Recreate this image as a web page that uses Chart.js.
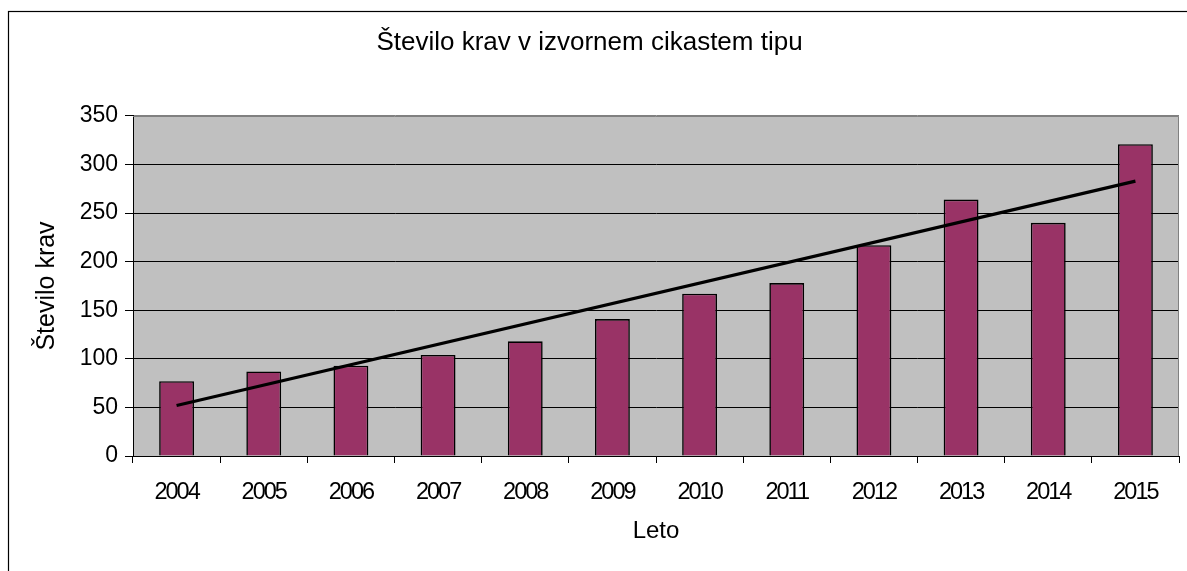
<!DOCTYPE html>
<html>
<head>
<meta charset="utf-8">
<script src="https://cdn.jsdelivr.net/npm/chart.js@4"></script>
<style>
  html, body { margin: 0; padding: 0; background: #fff; }
  #c { display: block; }
</style>
</head>
<body>
<canvas id="c" width="1187" height="571"></canvas>
<script>
const years = ['2004','2005','2006','2007','2008','2009','2010','2011','2012','2013','2014','2015'];
const cows = [77, 87, 93, 104, 118, 141, 167, 178, 217, 264, 240, 321];
const trend = [52, null, null, null, null, null, null, null, null, null, null, 283];
const yTicks = [0, 50, 100, 150, 200, 250, 300, 350];
const chartTitle = 'Število krav v izvornem cikastem tipu';
const yTitle = 'Število krav';
const xTitle = 'Leto';

const FONT = "'Liberation Sans', Arial, sans-serif";

// tighter letter spacing for the year labels (the original renders them condensed)
const LS_BY_SIZE = { '23.5': '-2px' };
(function () {
  const P = CanvasRenderingContext2D.prototype;
  if (!('letterSpacing' in P)) return;
  const setLS = (ctx) => {
    const m = /([\d.]+)px/.exec(ctx.font);
    ctx.letterSpacing = (m && LS_BY_SIZE[m[1]]) || '0px';
  };
  const fill = P.fillText, measure = P.measureText;
  P.fillText = function (...a) { setLS(this); return fill.apply(this, a); };
  P.measureText = function (...a) { setLS(this); return measure.apply(this, a); };
})();

const frame = {
  id: 'frame',
  beforeDraw(chart) {
    const {ctx, chartArea: a} = chart;
    ctx.save();
    ctx.fillStyle = '#fff';
    ctx.fillRect(0, 0, chart.width, chart.height);
    ctx.fillStyle = '#C0C0C0';
    ctx.fillRect(a.left, a.top, a.right - a.left, a.bottom - a.top);
    ctx.restore();
  },
  beforeDatasetsDraw(chart) {
    const {ctx, chartArea: a} = chart;
    ctx.save();
    ctx.strokeStyle = '#808080';
    ctx.lineWidth = 1;
    ctx.beginPath();
    ctx.moveTo(a.left, a.top + 0.5);
    ctx.lineTo(a.right - 0.5, a.top + 0.5);
    ctx.lineTo(a.right - 0.5, a.bottom);
    ctx.stroke();
    ctx.restore();
  },
  afterDraw(chart) {
    const {ctx} = chart;
    ctx.save();
    ctx.strokeStyle = '#000';
    ctx.lineWidth = 1.2;
    ctx.strokeRect(8.5, 11.5, chart.width + 10, chart.height + 10);
    ctx.restore();
  }
};

new Chart(document.getElementById('c'), {
  data: {
    labels: years,
    datasets: [
      {
        type: 'line',
        data: trend,
        spanGaps: true,
        borderColor: '#000',
        borderWidth: 3.2,
        pointRadius: 0,
        fill: false,
        order: 0
      },
      {
        type: 'bar',
        data: cows,
        backgroundColor: '#993366',
        borderColor: '#000',
        borderWidth: 1.6,
        categoryPercentage: 1.0,
        barPercentage: 0.4,
        order: 1
      }
    ]
  },
  options: {
    responsive: false,
    animation: false,
    events: [],
    layout: { padding: { left: 0, top: 0, right: 8, bottom: 0 } },
    plugins: {
      legend: { display: false },
      tooltip: { enabled: false },
      title: {
        display: true,
        text: chartTitle,
        color: '#000',
        font: { family: FONT, size: 26, weight: 'normal', lineHeight: 1.2 },
        padding: { top: 27.4, bottom: 116 - 27.4 - 31.2 }
      }
    },
    scales: {
      x: {
        type: 'category',
        offset: true,
        grid: {
          offset: true,
          drawOnChartArea: false,
          drawTicks: true,
          tickLength: 7,
          tickColor: '#000',
          tickWidth: 1
        },
        border: { display: true, color: '#000', width: 1 },
        ticks: {
          color: '#000',
          padding: 15,
          maxRotation: 0,
          autoSkip: false,
          font: { family: FONT, size: 23.5, lineHeight: 1.2 }
        },
        title: {
          display: true,
          text: xTitle,
          color: '#000',
          font: { family: FONT, size: 24, lineHeight: 1.2 },
          padding: { top: 0, bottom: 25.6 }
        },
        afterFit(scale) { scale.height = 115; }
      },
      y: {
        min: 0,
        max: 350,
        afterBuildTicks(scale) { scale.ticks = yTicks.map(v => ({ value: v })); },
        grid: {
          color: ctx => (ctx.tick && ctx.tick.value === 350) ? '#808080' : '#000',
          lineWidth: 1,
          drawTicks: true,
          tickLength: 8,
          tickColor: '#000'
        },
        border: { display: true, color: '#000', width: 1 },
        ticks: {
          color: '#000',
          padding: 7,
          font: { family: FONT, size: 23, lineHeight: 1.2 }
        },
        title: {
          display: true,
          text: yTitle,
          color: '#000',
          font: { family: FONT, size: 25, lineHeight: 1.2 },
          padding: { top: 32, bottom: 0 }
        },
        afterFit(scale) { scale.width = 133; }
      }
    }
  },
  plugins: [frame]
});
</script>
</body>
</html>
